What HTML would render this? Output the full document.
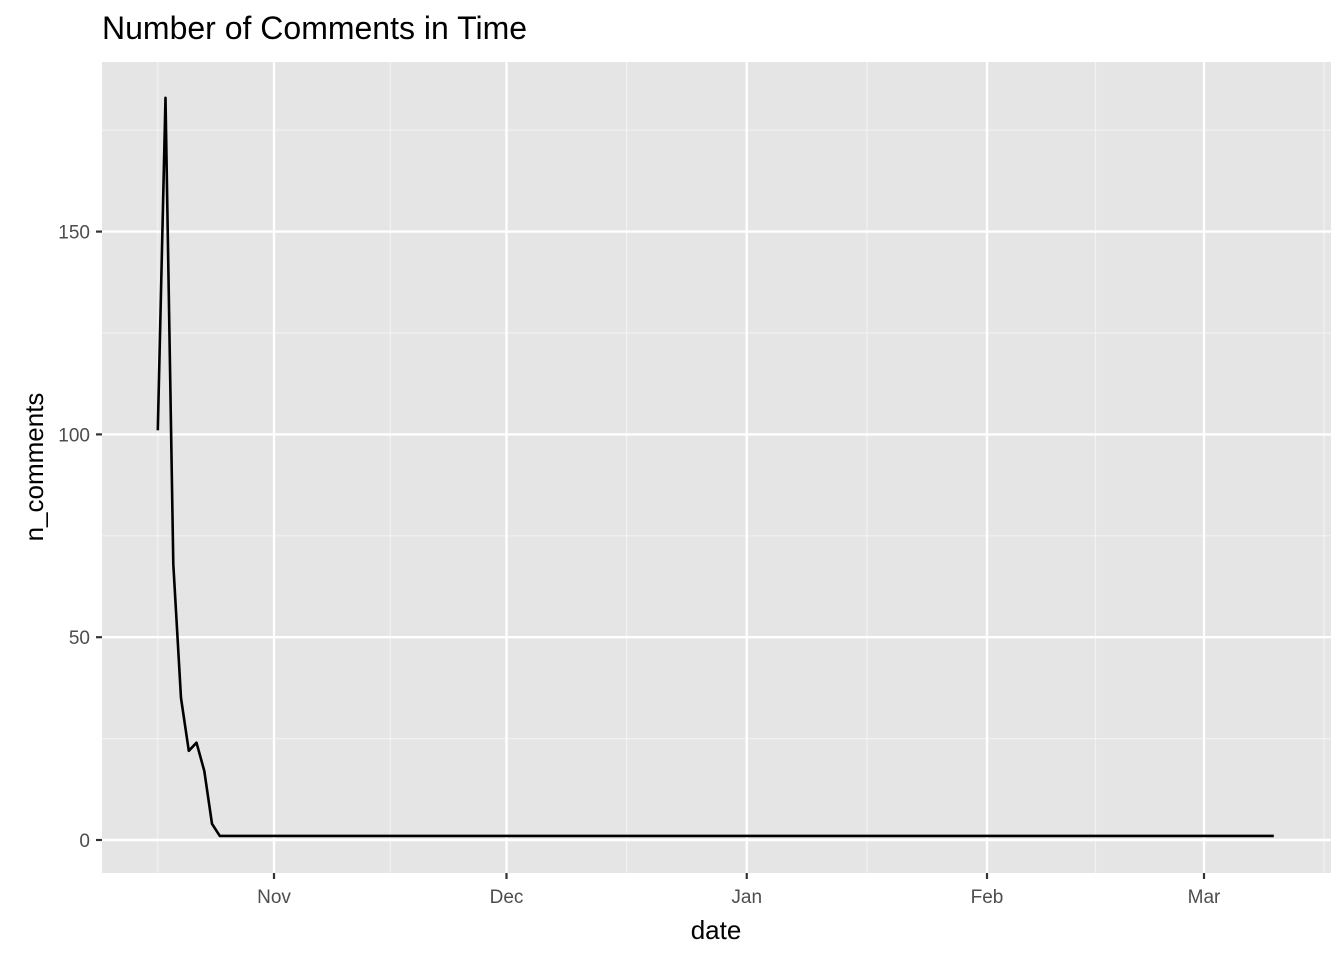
<!DOCTYPE html>
<html><head><meta charset="utf-8"><style>
body{margin:0;background:#fff;}
text{font-family:"Liberation Sans",Arial,sans-serif;}
</style></head><body>
<svg id="chart" width="1344" height="960" xmlns="http://www.w3.org/2000/svg">
<text x="102" y="39" font-size="32" fill="#000">Number of Comments in Time</text>
<rect x="102" y="62" width="1229" height="811" fill="#e5e5e5"/>
<g id="grid"></g>
<g id="axes"></g>
<path id="line" fill="none" stroke="#000" stroke-width="2.6" stroke-linejoin="round"/>
<text x="716" y="939" font-size="26" text-anchor="middle" fill="#000">date</text>
<text transform="translate(43,467) rotate(-90)" font-size="26" text-anchor="middle" fill="#000">n_comments</text>
</svg>
<script>
// days offset from Nov 1
const dayOffsets=[-15,-14,-13,-12,-11,-10,-9,-8,-7];
const counts=[101,183,68,35,22,24,17,4,1];
const lastDay=129; const lastCount=1;
const xTickLabels=["Nov","Dec","Jan","Feb","Mar"];
const xTickDays=[0,30,61,92,120];
const xMinorDays=[-15,15,45.5,76.5,106,135.5];
const yTicks=[0,50,100,150];
const yMinor=[25,75,125,175];

const ns="http://www.w3.org/2000/svg";
const X=d=>274+d*7.75;
const Y=v=>840-v*4.056;
const grid=document.getElementById('grid'), axes=document.getElementById('axes');
function line(p,x1,y1,x2,y2,c,w){const l=document.createElementNS(ns,'line');
l.setAttribute('x1',x1);l.setAttribute('y1',y1);l.setAttribute('x2',x2);l.setAttribute('y2',y2);
l.setAttribute('stroke',c);l.setAttribute('stroke-width',w);p.appendChild(l);return l;}
function txt(p,x,y,s,a){const t=document.createElementNS(ns,'text');t.setAttribute('x',x);t.setAttribute('y',y);
t.setAttribute('font-size','19');t.setAttribute('fill','#4d4d4d');t.setAttribute('text-anchor',a);t.textContent=s;p.appendChild(t);return t;}
yMinor.forEach(v=>{const l=line(grid,102,Y(v),1331,Y(v),'#f2f2f2',1.2);

});
xMinorDays.forEach(d=>{const l=line(grid,X(d),62,X(d),873,'#f2f2f2',1.2);

});
yTicks.forEach(v=>{const l=line(grid,102,Y(v),1331,Y(v),'#fff',2.4);


line(axes,96,Y(v),102,Y(v),'#333',2.2);
const t=txt(axes,90,Y(v)+7,String(v),'end');

});
xTickDays.forEach((d,i)=>{const l=line(grid,X(d),62,X(d),873,'#fff',2.4);


line(axes,X(d),873,X(d),879,'#333',2.2);
const t=txt(axes,X(d),903,xTickLabels[i],'middle');

});
let pts=dayOffsets.map((d,i)=>[X(d),Y(counts[i])]);
pts.push([X(lastDay),Y(lastCount)]);
document.getElementById('line').setAttribute('d','M'+pts.map(p=>p[0].toFixed(1)+','+p[1].toFixed(1)).join('L'));
</script>
</body></html>
